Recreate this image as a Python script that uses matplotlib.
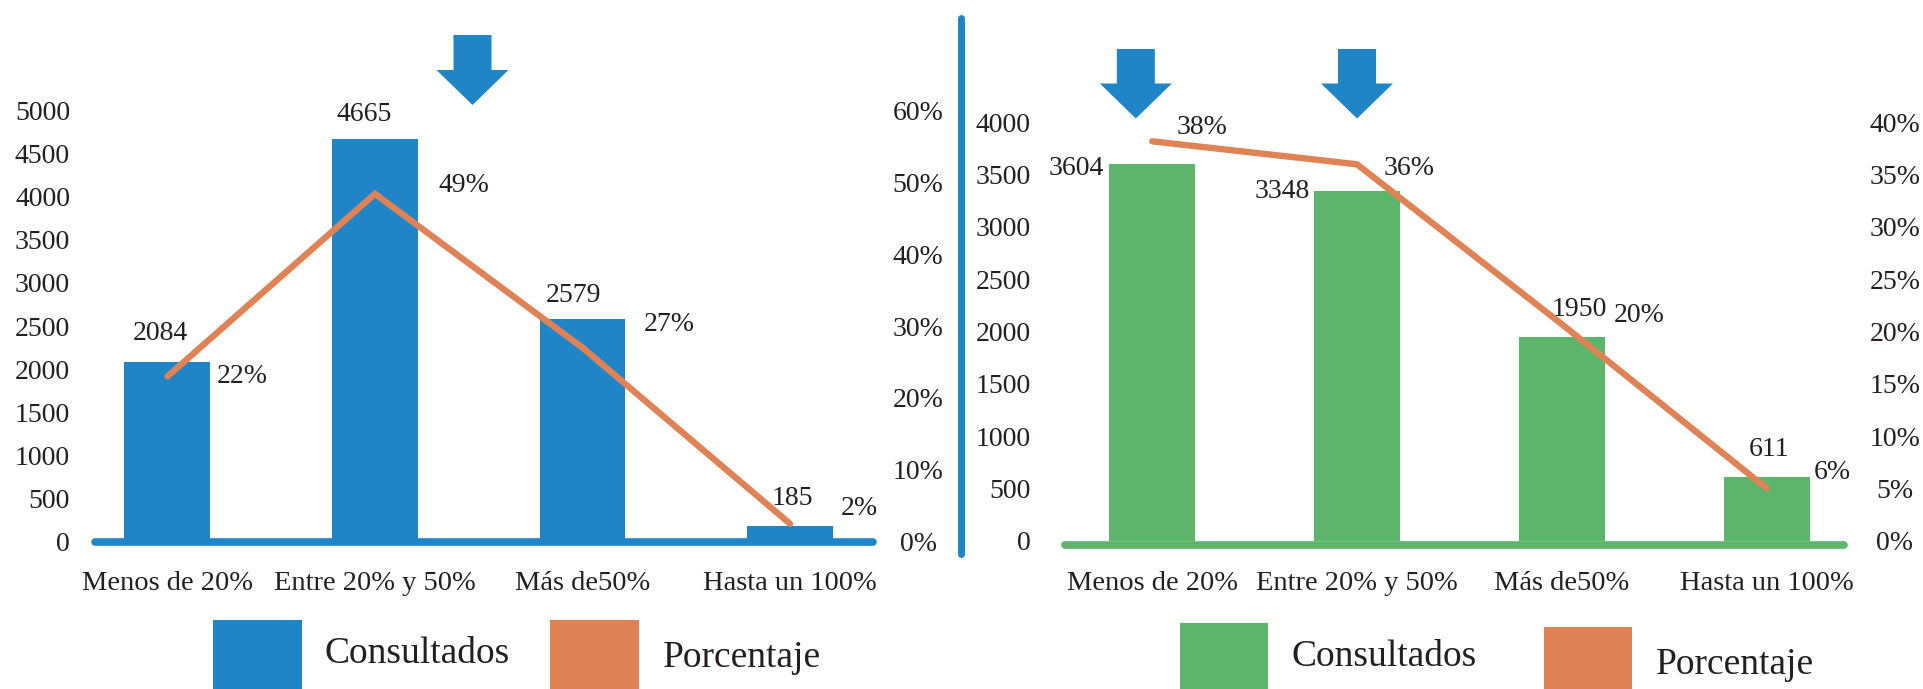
import matplotlib
matplotlib.use('Agg')
import matplotlib.pyplot as plt
import matplotlib.transforms as mtransforms
from matplotlib.patches import Rectangle, Polygon
from matplotlib.lines import Line2D
from matplotlib.ticker import PercentFormatter

# ---------------- data ----------------
categories = ['Menos de 20%', 'Entre 20% y 50%', 'Más de50%', 'Hasta un 100%']

left_counts = [2084, 4665, 2579, 185]
left_pct_line = [0.23, 0.484, 0.27, 0.025]
left_pct_labels = ['22%', '49%', '27%', '2%']

right_counts = [3604, 3348, 1950, 611]
right_pct_line = [0.382, 0.36, 0.207, 0.05]
right_pct_labels = ['38%', '36%', '20%', '6%']

legend_labels = ['Consultados', 'Porcentaje']

left_count_ticks = [0, 500, 1000, 1500, 2000, 2500, 3000, 3500, 4000, 4500, 5000]
left_pct_ticks = [0.0, 0.1, 0.2, 0.3, 0.4, 0.5, 0.6]
right_count_ticks = [0, 500, 1000, 1500, 2000, 2500, 3000, 3500, 4000]
right_pct_ticks = [0.0, 0.05, 0.10, 0.15, 0.20, 0.25, 0.30, 0.35, 0.40]

# ---------------- style ----------------
BLUE = '#1F85C6'
GREEN = '#5CB56B'
ORANGE = '#DF8256'
TXT = '#231F20'
W, H = 1923, 689

plt.rcParams['font.family'] = ['Liberation Serif', 'DejaVu Serif']
plt.rcParams['text.color'] = TXT

fig = plt.figure(figsize=(W / 100, H / 100), dpi=100)


def fx(x):
    return x / W


def fy(y):
    return 1 - y / H


def make_panel(left_px, right_px, bottom_px, top_px, xlim, counts, count_ticks, cmax,
               pct_line, pct_ticks, pmax, bar_color, bar_w, base_shift,
               ylab_pad, plab_pad):
    ax = fig.add_axes([fx(left_px), fy(bottom_px), (right_px - left_px) / W,
                       (bottom_px - top_px) / H])
    x = list(range(len(categories)))
    ax.bar(x, counts, width=bar_w, color=bar_color, zorder=2)
    ax.set_xlim(*xlim)
    ax.set_ylim(0, cmax)
    ax.set_xticks([])
    ax.set_yticks(count_ticks)
    ax.set_yticklabels([str(t) for t in count_ticks])
    ax.tick_params(axis='y', length=0, pad=ylab_pad, labelsize=20, labelcolor=TXT)
    for s in ax.spines.values():
        s.set_visible(False)
    ax.patch.set_visible(False)
    tr = ax.transAxes + mtransforms.ScaledTranslation(0, -base_shift / 100, fig.dpi_scale_trans)
    ax.plot([0, 1], [0, 0], transform=tr, color=bar_color, lw=5.5,
            solid_capstyle='round', clip_on=False, zorder=3)

    ax2 = ax.twinx()
    ax2.set_ylim(0, pmax)
    ax2.set_yticks(pct_ticks)
    ax2.yaxis.set_major_formatter(PercentFormatter(1.0, decimals=0))
    ax2.tick_params(axis='y', length=0, pad=plab_pad, labelsize=20, labelcolor=TXT)
    for t in ax2.yaxis.get_major_ticks():
        t.label2.set_horizontalalignment('center')
    for s in ax2.spines.values():
        s.set_visible(False)
    ax2.plot(x, pct_line, color=ORANGE, lw=4.6, solid_capstyle='round',
             solid_joinstyle='miter', zorder=4)
    return ax, ax2


def label(ax, x, y, text, dx, dy, ha='center'):
    ax.annotate(text, xy=(x, y), xycoords='data', xytext=(dx, dy),
                textcoords='offset pixels', ha=ha, va='baseline', fontsize=20,
                color=TXT, annotation_clip=False)


def cat_labels(ax, below):
    for i, c in enumerate(categories):
        ax.annotate(c, xy=(i, 0), xycoords=('data', 'axes fraction'), xytext=(0, -below),
                    textcoords='offset pixels', ha='center', va='baseline',
                    fontsize=20.5, color=TXT, annotation_clip=False)


def arrow(ax, xdata, y0, y1, y2):
    cx = ax.transData.transform((xdata, 0))[0]
    sw, hw = 19, 36
    verts = [(cx - sw, y0), (cx + sw, y0), (cx + sw, y1), (cx + hw, y1), (cx, y2),
             (cx - hw, y1), (cx - sw, y1)]
    verts = [(fx(a), fy(b)) for a, b in verts]
    fig.add_artist(Polygon(verts, closed=True, transform=fig.transFigure,
                           facecolor=BLUE, edgecolor='none'))


def legend(items):
    for (rx, ry, rw, color), (tx, ty, text) in items:
        fig.add_artist(Rectangle((fx(rx), fy(H)), rw / W, (H - ry) / H,
                                 transform=fig.transFigure, facecolor=color,
                                 edgecolor='none'))
        fig.text(fx(tx), fy(ty), text, fontsize=27, ha='left', va='baseline', color=TXT)


# ---------------- left panel ----------------
axL, axL2 = make_panel(94.6, 873, 541.7, 110.5, (-0.351, 3.400), left_counts,
                       left_count_ticks, 5000, left_pct_line, left_pct_ticks, 0.6,
                       BLUE, 0.414, 0, 17.7, 32.4)
L_count_off = [(-7, 22), (-11, 18), (-9, 17), (2, 21)]
L_pct_off = [(49, -7), (64, 2), (61, 16.5), (51, 8.5)]
for i in range(4):
    label(axL, i, left_counts[i], str(left_counts[i]), *L_count_off[i])
    label(axL2, i, left_pct_line[i], left_pct_labels[i], *L_pct_off[i], ha='left')
cat_labels(axL, 48)

# ---------------- right panel ----------------
axR, axR2 = make_panel(1065.4, 1843.6, 540.5, 122.5, (-0.424, 3.376), right_counts,
                       right_count_ticks, 4000, right_pct_line, right_pct_ticks, 0.4,
                       GREEN, 0.42, 4, 24.8, 37)
R_count_off = [(-48, -10.8, 'right'), (-47, -6.9, 'right'), (17, 20.5, 'center'),
               (2, 21, 'center')]
R_pct_off = [(24.5, 7), (26.3, -11), (51.5, 2), (47, 9.5)]
for i in range(4):
    dx, dy, ha = R_count_off[i]
    label(axR, i, right_counts[i], str(right_counts[i]), dx, dy, ha=ha)
    label(axR2, i, right_pct_line[i], right_pct_labels[i], *R_pct_off[i], ha='left')
cat_labels(axR, 49)

# ---------------- arrows ----------------
arrow(axL, 1.47, 35, 70, 105)
arrow(axR, -0.08, 49, 83.5, 118.5)
arrow(axR, 1.0, 49, 83.5, 118.5)

# ---------------- divider ----------------
fig.add_artist(Line2D([fx(961), fx(961)], [fy(18), fy(554)], transform=fig.transFigure,
                      color=BLUE, lw=5, solid_capstyle='round'))

# ---------------- legends ----------------
legend([((213, 619.5, 89, BLUE), (324.6, 663.4, legend_labels[0])),
        ((550, 619.5, 89, ORANGE), (663.2, 667, legend_labels[1])),
        ((1180, 623, 88, GREEN), (1291.7, 666, legend_labels[0])),
        ((1543.5, 627, 88, ORANGE), (1656, 673.5, legend_labels[1]))])

fig.savefig('out.png', dpi=100)
